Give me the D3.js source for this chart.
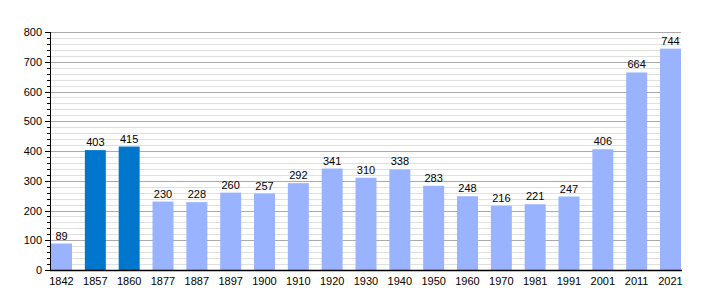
<!DOCTYPE html>
<html>
<head>
  <meta charset="utf-8">
  <script src="https://cdn.jsdelivr.net/npm/d3@7"></script>
  <style>
    body { margin: 0; background: #fff; }
    text { font: 11px "Liberation Sans", Arial, sans-serif; fill: #000; }
  </style>
</head>
<body>
<svg id="chart" width="710" height="300"></svg>
<script>
  // data
  var years = ["1842","1857","1860","1877","1887","1897","1900","1910","1920","1930","1940","1950","1960","1970","1981","1991","2001","2011","2021"];
  var population = [89,403,415,230,228,260,257,292,341,310,338,283,248,216,221,247,406,664,744];
  var highlighted = ["1857","1860"];
  var yTicks = [0,100,200,300,400,500,600,700,800];

  var plotLeft = 50, plotRight = 682, plotTop = 32, plotBottom = 270;

  var svg = d3.select("#chart");

  var x = d3.scaleBand()
    .domain(years)
    .range([plotLeft, plotRight])
    .paddingInner(0.38)
    .paddingOuter(0.03);

  var y = d3.scaleLinear()
    .domain([0, 800])
    .range([plotBottom, plotTop]);

  function py(d) { return Math.round(y(d)) + 0.5; }

  // minor grid every 20
  svg.append("g").selectAll("line")
    .data(d3.range(20, 801, 20).filter(function(v){ return v % 100 !== 0; }))
    .enter().append("line")
    .attr("x1", plotLeft).attr("x2", plotRight - 1)
    .attr("y1", py).attr("y2", py)
    .attr("stroke", "#e0e0e0");

  // major grid
  svg.append("g").selectAll("line")
    .data(yTicks.slice(1))
    .enter().append("line")
    .attr("x1", plotLeft).attr("x2", plotRight - 1)
    .attr("y1", py).attr("y2", py)
    .attr("stroke", "#aaaaaa");

  // bars
  svg.append("g").selectAll("rect")
    .data(population)
    .enter().append("rect")
    .attr("x", function(d,i){ return x(years[i]); })
    .attr("width", x.bandwidth())
    .attr("y", function(d){ return y(d); })
    .attr("height", function(d){ return plotBottom - y(d); })
    .attr("fill", function(d,i){ return highlighted.indexOf(years[i]) >= 0 ? "#0077cc" : "#99b3ff"; });

  // value labels
  svg.append("g").selectAll("text")
    .data(population)
    .enter().append("text")
    .attr("x", function(d,i){ return x(years[i]) + x.bandwidth()/2; })
    .attr("y", function(d){ return y(d) - 4; })
    .attr("text-anchor", "middle")
    .text(function(d){ return d; });

  // y axis with minor ticks
  svg.append("g").selectAll("line")
    .data(d3.range(0, 801, 20))
    .enter().append("line")
    .attr("x1", function(d){ return d % 100 === 0 ? plotLeft - 5 : plotLeft - 3; })
    .attr("x2", plotLeft)
    .attr("y1", py).attr("y2", py)
    .attr("stroke", "#000");

  svg.append("line")
    .attr("x1", plotLeft + 0.5).attr("x2", plotLeft + 0.5)
    .attr("y1", plotTop).attr("y2", plotBottom)
    .attr("stroke", "#000");

  svg.append("g").selectAll("text")
    .data(yTicks)
    .enter().append("text")
    .attr("x", plotLeft - 8)
    .attr("y", function(d){ return y(d) + 4; })
    .attr("text-anchor", "end")
    .text(function(d){ return d; });

  // x axis
  svg.append("line")
    .attr("x1", plotLeft).attr("x2", plotRight)
    .attr("y1", plotBottom + 0.5).attr("y2", plotBottom + 0.5)
    .attr("stroke", "#000").attr("stroke-width", 1.5);

  svg.append("g").selectAll("text")
    .data(years)
    .enter().append("text")
    .attr("x", function(d){ return x(d) + x.bandwidth()/2; })
    .attr("y", plotBottom + 15)
    .attr("text-anchor", "middle")
    .text(function(d){ return d; });
</script>
</body>
</html>
